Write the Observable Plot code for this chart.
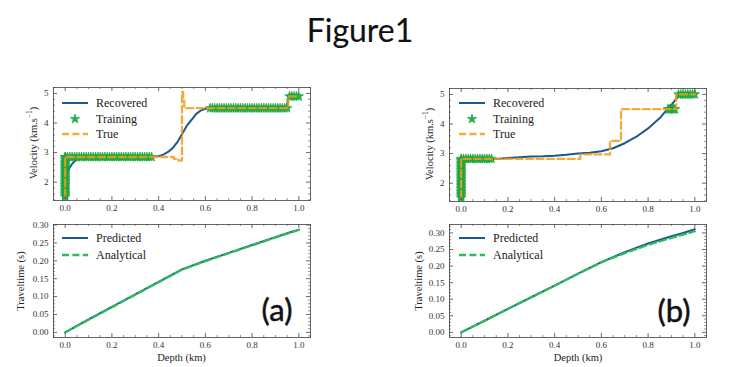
<!DOCTYPE html>
<html><head><meta charset="utf-8">
<script src="https://cdn.jsdelivr.net/npm/d3@7"></script>
<script src="https://cdn.jsdelivr.net/npm/@observablehq/plot@0.6"></script>
<style>
html,body{margin:0;padding:0;background:#fff;}
#root{position:relative;width:731px;height:367px;overflow:hidden;background:#fff;}
</style></head><body><div id="root"></div>
<script>
// ---------------- data ----------------
const xTickValues = [0, 0.2, 0.4, 0.6, 0.8, 1.0];
const velTickValues = [2, 3, 4, 5];
const ttTickValues = [0, 0.05, 0.10, 0.15, 0.20, 0.25, 0.30];

// (a) velocity
const recA_depth = [0, 0.005, 0.01, 0.02, 0.03, 0.04, 0.05, 0.06, 0.08, 0.1, 0.2, 0.3, 0.36, 0.38, 0.4, 0.42, 0.44, 0.46, 0.48, 0.5, 0.52, 0.54, 0.56, 0.58, 0.6, 0.62, 0.65, 0.8, 0.94, 0.948, 0.952, 0.956, 0.96, 1.0];
const recA_vel   = [2.1, 2.25, 2.35, 2.5, 2.62, 2.71, 2.77, 2.81, 2.84, 2.85, 2.85, 2.85, 2.85, 2.86, 2.88, 2.93, 3.02, 3.15, 3.35, 3.62, 3.9, 4.1, 4.3, 4.42, 4.48, 4.5, 4.5, 4.5, 4.5, 4.55, 4.7, 4.85, 4.9, 4.9];
const trueA_depth = [0, 0, 0.465, 0.465, 0.485, 0.485, 0.5, 0.5, 0.505, 0.505, 0.51, 0.51, 0.955, 0.955, 1.0];
const trueA_vel   = [1.5, 2.85, 2.85, 2.79, 2.79, 2.73, 2.73, 5.05, 5.05, 4.75, 4.75, 4.5, 4.5, 4.9, 4.9];
const trainA_depth = [0,0,0,0,0,0,0,0,0,0,0,0,0,0,0,0,0,0,0,0,0,0,0,0,0,0,0,0,
  0,0.01,0.02,0.03,0.04,0.05,0.06,0.07,0.08,0.09,0.10,0.11,0.12,0.13,0.14,0.15,0.16,0.17,0.18,0.19,
  0.20,0.21,0.22,0.23,0.24,0.25,0.26,0.27,0.28,0.29,0.30,0.31,0.32,0.33,0.34,0.35,0.36,0.37,
  0.62,0.63,0.64,0.65,0.66,0.67,0.68,0.69,0.70,0.71,0.72,0.73,0.74,0.75,0.76,0.77,0.78,0.79,
  0.80,0.81,0.82,0.83,0.84,0.85,0.86,0.87,0.88,0.89,0.90,0.91,0.92,0.93,0.94,0.95,
  0.96,0.97,0.98,0.99,1.0];
const trainA_vel = [1.5,1.55,1.6,1.65,1.7,1.75,1.8,1.85,1.9,1.95,2.0,2.05,2.1,2.15,2.2,2.25,2.3,2.35,2.4,2.45,2.5,2.55,2.6,2.65,2.7,2.75,2.8,2.85,
  2.85,2.85,2.85,2.85,2.85,2.85,2.85,2.85,2.85,2.85,2.85,2.85,2.85,2.85,2.85,2.85,2.85,2.85,2.85,2.85,
  2.85,2.85,2.85,2.85,2.85,2.85,2.85,2.85,2.85,2.85,2.85,2.85,2.85,2.85,2.85,2.85,2.85,2.85,
  4.5,4.5,4.5,4.5,4.5,4.5,4.5,4.5,4.5,4.5,4.5,4.5,4.5,4.5,4.5,4.5,4.5,4.5,
  4.5,4.5,4.5,4.5,4.5,4.5,4.5,4.5,4.5,4.5,4.5,4.5,4.5,4.5,4.5,4.5,
  4.9,4.9,4.9,4.9,4.9];

// (b) velocity
const recB_depth = [0, 0.05, 0.1, 0.15, 0.2, 0.25, 0.3, 0.35, 0.4, 0.45, 0.5, 0.55, 0.6, 0.65, 0.7, 0.75, 0.8, 0.85, 0.88, 0.9, 0.92, 0.935, 0.95, 1.0];
const recB_vel   = [2.75, 2.8, 2.81, 2.82, 2.85, 2.88, 2.9, 2.91, 2.93, 2.96, 3.0, 3.03, 3.08, 3.18, 3.35, 3.57, 3.85, 4.2, 4.48, 4.65, 4.85, 4.98, 5.0, 5.0];
const trueB_depth = [0, 0, 0.51, 0.51, 0.637, 0.637, 0.684, 0.684, 0.92, 0.92, 1.0];
const trueB_vel   = [1.5, 2.82, 2.82, 2.97, 2.97, 3.43, 3.43, 4.5, 4.5, 5.0, 5.0];
const trainB_depth = [0,0,0,0,0,0,0,0,0,0,0,0,0,0,0,0,0,0,0,0,0,0,0,0,0,0,0,
  0,0.01,0.02,0.03,0.04,0.05,0.06,0.07,0.08,0.09,0.10,0.11,0.12,0.13,
  0.885,0.89,0.895,0.90,0.905,0.91,0.915,
  0.93,0.94,0.95,0.96,0.97,0.98,0.99,1.0];
const trainB_vel = [1.5,1.55,1.6,1.65,1.7,1.75,1.8,1.85,1.9,1.95,2.0,2.05,2.1,2.15,2.2,2.25,2.3,2.35,2.4,2.45,2.5,2.55,2.6,2.65,2.7,2.75,2.8,
  2.82,2.82,2.82,2.82,2.82,2.82,2.82,2.82,2.82,2.82,2.82,2.82,2.82,2.82,
  4.5,4.5,4.5,4.5,4.5,4.5,4.5,
  5.0,5.0,5.0,5.0,5.0,5.0,5.0,5.0];

// traveltimes
const tt_depth = [0, 0.1, 0.2, 0.3, 0.4, 0.5, 0.6, 0.7, 0.8, 0.9, 0.95, 1.0];
const predA = [0, 0.036, 0.071, 0.106, 0.141, 0.176, 0.200, 0.222, 0.244, 0.266, 0.277, 0.287];
const anaA  = [0, 0.035, 0.070, 0.105, 0.140, 0.175, 0.199, 0.221, 0.243, 0.265, 0.276, 0.286];
const predB = [0, 0.035, 0.071, 0.106, 0.141, 0.177, 0.212, 0.242, 0.268, 0.290, 0.300, 0.311];
const anaB  = [0, 0.035, 0.071, 0.106, 0.141, 0.177, 0.211, 0.239, 0.264, 0.285, 0.295, 0.305];

// ---------------- style ----------------
const BLUE = "#1b5890", GREEN = "#1db64a", ORANGE = "#f39a1c", GREEN2 = "#2dbd58";
const SERIF = "Liberation Serif, DejaVu Serif, serif";
const SANS = "Lato, Open Sans, sans-serif";
const root = document.getElementById("root");

function place(node, left, top) {
  node.style.position = "absolute";
  node.style.left = left + "px";
  node.style.top = top + "px";
  root.appendChild(node);
}

function panel({left, top, height, mt, mb, yDomain, yTicks, yMinorStep, yFmt, marks}) {
  const width = 365, ml = 53, mr = 55;
  const pw = width - ml - mr, ph = height - mt - mb;
  const xDomain = [-0.05, 1.05];
  const xMinor = d3.range(-0.05, 1.0501, 0.05).filter(v => !xTickValues.some(t => Math.abs(t - v) < 1e-6));
  const yMinor = d3.range(Math.ceil(yDomain[0] / yMinorStep) * yMinorStep, yDomain[1] + 1e-9, yMinorStep)
    .filter(v => !yTicks.some(t => Math.abs(t - v) < 1e-6));
  const tc = "#444";
  const p = Plot.plot({
    width, height, marginTop: mt, marginBottom: mb, marginLeft: ml, marginRight: mr,
    x: {domain: xDomain}, y: {domain: yDomain},
    style: {fontFamily: SERIF, fontSize: "9px", color: "#333", background: "transparent"},
    marks: [
      ...marks,
      Plot.frame({stroke: "#555", strokeWidth: 0.9}),
      Plot.tickX(xTickValues, {x: d => d, insetTop: ph - 4, stroke: tc, strokeWidth: 0.8}),
      Plot.tickX(xTickValues, {x: d => d, insetBottom: ph - 4, stroke: tc, strokeWidth: 0.8}),
      Plot.tickX(xMinor, {x: d => d, insetTop: ph - 2, stroke: tc, strokeWidth: 0.6}),
      Plot.tickX(xMinor, {x: d => d, insetBottom: ph - 2, stroke: tc, strokeWidth: 0.6}),
      Plot.tickY(yTicks, {y: d => d, insetRight: pw - 4, stroke: tc, strokeWidth: 0.8}),
      Plot.tickY(yTicks, {y: d => d, insetLeft: pw - 4, stroke: tc, strokeWidth: 0.8}),
      Plot.tickY(yMinor, {y: d => d, insetRight: pw - 2, stroke: tc, strokeWidth: 0.6}),
      Plot.tickY(yMinor, {y: d => d, insetLeft: pw - 2, stroke: tc, strokeWidth: 0.6}),
      Plot.axisX(xTickValues, {tickSize: 0, tickPadding: 4, tickFormat: d3.format(".1f"), label: null, fontSize: 9, fontFamily: SERIF}),
      Plot.axisY(yTicks, {tickSize: 0, tickPadding: 5, tickFormat: yFmt, label: null, fontSize: 9, fontFamily: SERIF})
    ]
  });
  place(p, left, top);
}

const dash = "7,3.4";

function velMarks(rd, rv, td, tv, trd, trv) {
  return [
    Plot.line({length: rd.length}, {x: rd, y: rv, stroke: BLUE, strokeWidth: 2, curve: "linear"}),
    Plot.dot({length: trd.length}, {x: trd, y: trv, symbol: "star", r: 3, fill: GREEN, stroke: "#17a03c", strokeWidth: 0.6}),
    Plot.line({length: td.length}, {x: td, y: tv, stroke: ORANGE, strokeWidth: 2.3, strokeOpacity: 0.85, strokeDasharray: dash})
  ];
}
function ttMarks(pred, ana) {
  return [
    Plot.line({length: tt_depth.length}, {x: tt_depth, y: pred, stroke: BLUE, strokeWidth: 2}),
    Plot.line({length: tt_depth.length}, {x: tt_depth, y: ana, stroke: GREEN2, strokeWidth: 2.2, strokeDasharray: dash})
  ];
}

const f0 = d3.format("d"), f2 = d3.format(".2f");
panel({left: 0, top: 80, height: 140, mt: 7, mb: 20, yDomain: [1.38, 5.2], yTicks: velTickValues, yMinorStep: 0.2, yFmt: f0,
  marks: velMarks(recA_depth, recA_vel, trueA_depth, trueA_vel, trainA_depth, trainA_vel)});
panel({left: 396, top: 81, height: 140, mt: 7, mb: 20, yDomain: [1.38, 5.2], yTicks: velTickValues, yMinorStep: 0.2, yFmt: f0,
  marks: velMarks(recB_depth, recB_vel, trueB_depth, trueB_vel, trainB_depth, trainB_vel)});
panel({left: 0, top: 218, height: 149, mt: 6, mb: 30, yDomain: [-0.0144, 0.3014], yTicks: ttTickValues, yMinorStep: 0.01, yFmt: f2,
  marks: ttMarks(predA, anaA)});
panel({left: 396, top: 218, height: 149, mt: 6, mb: 30, yDomain: [-0.0155, 0.3255], yTicks: ttTickValues, yMinorStep: 0.01, yFmt: f2,
  marks: ttMarks(predB, anaB)});

// ---------------- overlay: titles, labels, legends ----------------
const svg = d3.create("svg").attr("width", 731).attr("height", 367)
  .style("position", "absolute").style("left", "0px").style("top", "0px").style("pointer-events", "none");

svg.append("text").attr("x", 360).attr("y", 42).attr("text-anchor", "middle")
  .attr("font-family", SANS).attr("font-size", 32).attr("fill", "#111")
  .attr("stroke", "#111").attr("stroke-width", 0.15).text("Figure1");
for (const [x, y, t] of [[277, 321, "(a)"], [674, 322, "(b)"]]) {
  svg.append("text").attr("x", x).attr("y", y).attr("text-anchor", "middle")
    .attr("font-family", SANS).attr("font-size", 31).attr("fill", "#111")
    .attr("stroke", "#111").attr("stroke-width", 0.5).text(t);
}

function ylabel(x, y, txt, sup) {
  const t = svg.append("text").attr("transform", `translate(${x},${y}) rotate(-90)`)
    .attr("text-anchor", "middle").attr("dominant-baseline", "central")
    .attr("font-family", SERIF).attr("font-size", 10.5).attr("fill", "#222");
  t.append("tspan").text(txt);
  if (sup) {
    t.append("tspan").attr("dy", -4).attr("font-size", 7.5).text(sup);
    t.append("tspan").attr("dy", 4).text(")");
  }
}
ylabel(33, 143, "Velocity (km.s", "\u22121");
ylabel(429, 144, "Velocity (km.s", "\u22121");
ylabel(20, 281, "Traveltime (s)");
ylabel(418, 281, "Traveltime (s)");
for (const cx of [181.5, 578]) {
  svg.append("text").attr("x", cx).attr("y", 357).attr("text-anchor", "middle").attr("dominant-baseline", "central")
    .attr("font-family", SERIF).attr("font-size", 10.5).attr("fill", "#222").text("Depth (km)");
}

const starPath = d3.symbol(d3.symbolStar, 28)();
function legend(x0, rows) {
  for (const r of rows) {
    if (r.type === "star") {
      svg.append("path").attr("d", starPath).attr("transform", `translate(${x0 + 13},${r.y})`)
        .attr("fill", GREEN).attr("stroke", "#17a03c").attr("stroke-width", 0.6);
    } else {
      svg.append("line").attr("x1", x0).attr("x2", x0 + 26).attr("y1", r.y).attr("y2", r.y)
        .attr("stroke", r.color).attr("stroke-width", r.type === "dash" ? 2.3 : 2)
        .attr("stroke-opacity", r.opacity || 1)
        .attr("stroke-dasharray", r.type === "dash" ? dash : null);
    }
    svg.append("text").attr("x", x0 + 34).attr("y", r.y).attr("dominant-baseline", "central")
      .attr("font-family", SERIF).attr("font-size", 12).attr("fill", "#222").text(r.label);
  }
}
for (const x0 of [62, 459]) {
  legend(x0, [
    {type: "line", color: BLUE, label: "Recovered", y: 103},
    {type: "star", label: "Training", y: 119},
    {type: "dash", color: ORANGE, opacity: 0.85, label: "True", y: 134}
  ]);
  legend(x0, [
    {type: "line", color: BLUE, label: "Predicted", y: 238},
    {type: "dash", color: GREEN2, label: "Analytical", y: 255}
  ]);
}
root.appendChild(svg.node());
</script></body></html>
